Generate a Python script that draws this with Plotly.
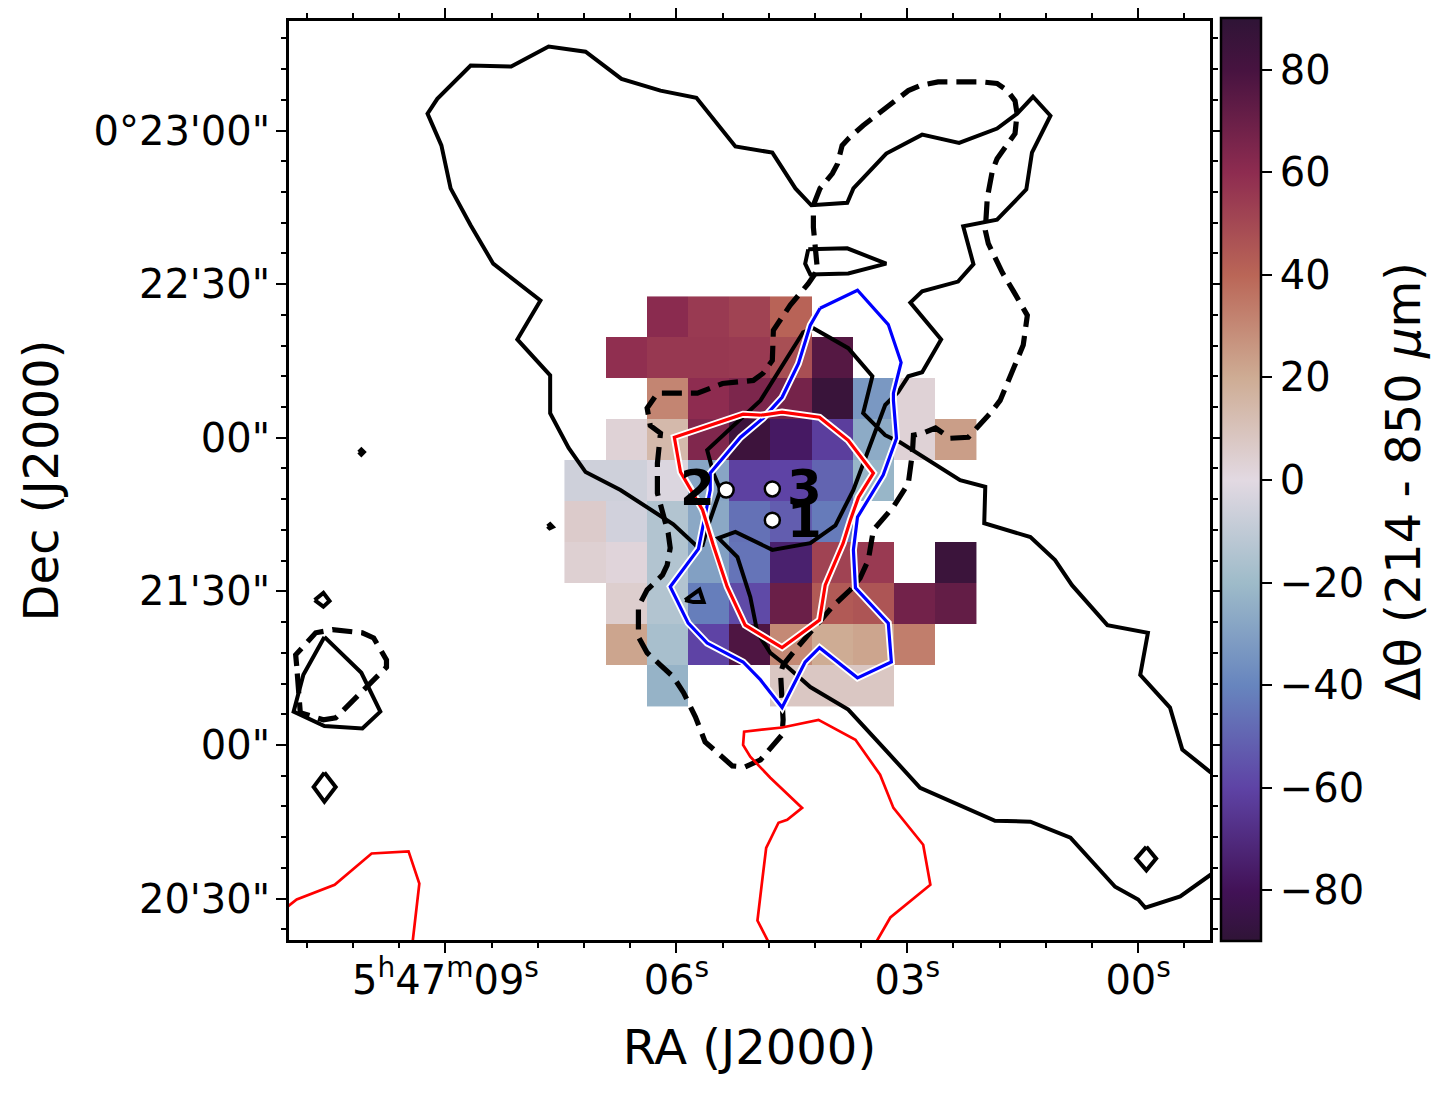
import plotly.graph_objects as go

# All positions: x = RA offset east of 5h47m00s (arcsec), y = arcsec north of 0d20m00s
ra_tick_vals = [135, 90, 45, 0]
ra_tick_text = ["5<sup>h</sup>47<sup>m</sup>09<sup>s</sup>", "06<sup>s</sup>", "03<sup>s</sup>", "00<sup>s</sup>"]
dec_tick_vals = [180, 150, 120, 90, 60, 30]
dec_tick_text = ["0°23'00\"", "22'30\"", "00\"", "21'30\"", "00\"", "20'30\""]

# Delta theta map (deg), rows top to bottom, 8 arcsec cells
dtheta = [
    [None, None, 61, 55, 52, 41, None, None, None, None],
    [None, 59, 56, 56, 55, 48, 76, None, None, None],
    [None, None, 31, 60, 65, 67, 86, -33, 3, None],
    [None, 3, 14, 64, 84, -77, -62, -26, 3, 24],
    [-6, -6, -2, -28, -61, -60, -50, -22, None, None],
    [6, -5, -14, -27, -46, -52, -43, None, None, None],
    [4, 2, -14, -30, -45, -74, 52, 55, None, 85],
    [None, 5, -14, -42, -58, 70, 44, 46, 68, 72],
    [None, 22, -17, -60, 78, 30, 20, 22, 33, None],
    [None, None, -23, None, None, 8, 8, 8, None, None],
]
cell_x0 = 107.8
cell_y0 = 143.6

# twilight_shifted
cmap_stops = [0, 0.0556, 0.1667, 0.2778, 0.3889, 0.5, 0.6111, 0.7222, 0.8333, 0.9444, 1]
cmap_colors = ["#2f1436", "#421257", "#5e43a5", "#6785be", "#9ebbc9", "#e2d9e2",
               "#ceac94", "#ba6657", "#8e2c50", "#471340", "#2f1436"]

main_x = [-14.2, -8.6, -6.2, -0.4, -1.9, 6.0, 12.9, 16.2, 21.0, 30.0, 29.8, 34.7, 46.4, 49.3, 53.6, 51.8, 56.5, 63.3, 65.3, 70.7,
          73.6, 84.0, 82.8, 81.4, 83.8, 84.9, 85.9, 90.6, 100.9, 107.7, 111.0, 114.6, 114.6, 121.0, 116.5, 125.7, 130.1, 134.0, 135.8, 138.5,
          136.6, 130.1, 122.2, 114.9, 107.7, 100.7, 93.1, 86.1, 78.5, 71.3, 66.8, 63.7, 56.7, 55.5, 49.1, 42.1, 34.9, 27.5, 23.6, 20.5,
          17.1, 20.7, 21.8, 27.5, 34.1, 32.1, 35.1, 42.1, 44.4, 38.4, 42.1, 44.8, 46.8, 49.3, 51.8, 55.5, 59.0, 63.9, 71.3, 78.5,
          81.8, 78.1, 75.6, 74.2, 71.7, 69.2, 63.9, 56.5, 49.3, 42.5, 27.9, 21.0, 13.2, 4.5, 0.0, -1.4, -8.2, -14.2]
main_y = [54.6, 59.1, 67.3, 73.7, 81.9, 83.4, 91.2, 96.1, 100.6, 103.3, 110.4, 111.7, 119.1, 120.5, 124.8, 132.0, 137.5, 141.4, 140.6, 131.8,
          127.3, 117.6, 113.1, 109.8, 102.9, 99.0, 98.7, 103.1, 109.8, 113.3, 118.0, 124.8, 132.2, 139.2, 146.8, 154.0, 161.5, 168.7, 177.1, 183.3,
          186.2, 192.7, 192.5, 196.4, 195.4, 190.1, 187.8, 186.4, 176.9, 175.7, 168.7, 165.4, 165.9, 168.7, 175.5, 179.2, 177.6, 180.4, 183.3, 186.6,
          182.9, 175.7, 168.5, 162.6, 161.3, 153.9, 150.5, 148.6, 146.4, 139.2, 132.8, 132.0, 128.9, 126.4, 119.5, 109.8, 102.9, 99.4, 98.1, 101.6,
          100.4, 96.7, 88.9, 81.9, 78.0, 76.0, 71.3, 66.9, 59.1, 51.6, 45.2, 45.0, 41.9, 32.3, 29.8, 28.2, 30.4, 34.7]

# small closed solid islands
islands = [
    ([64.3, 56.7, 49.1, 56.5, 63.9, 64.9, 64.3], [156.8, 157.0, 154.0, 152.1, 151.9, 154.0, 156.8]),
    ([88.3, 85.5, 84.7, 86.7, 88.3], [88.3, 90.3, 87.9, 87.9, 88.3]),
    ([151.9, 151.4, 150.9, 151.4, 151.9], [117.2, 117.7, 117.2, 116.7, 117.2]),
    ([115.1, 114.6, 114.1, 114.7, 115.1], [102.7, 103.1, 102.6, 102.3, 102.7]),
    ([160.5, 158.8, 157.6, 158.8, 160.5], [88.3, 89.7, 88.1, 87.0, 88.3]),
    ([158.6, 156.4, 158.6, 160.7, 158.6], [54.6, 51.8, 48.9, 51.8, 54.6]),
    ([-1.6, -3.5, -1.6, 0.4, -1.6], [40.1, 37.8, 35.5, 37.8, 40.1]),
    ([158.6, 151.4, 147.7, 151.2, 158.6, 164.6, 162.7, 158.6], [81.1, 74.1, 66.5, 63.2, 63.7, 66.5, 73.7, 81.1]),
]

dash_x = [63.3, 62.0, 59.6, 58.6, 57.7, 56.5, 53.6, 48.9, 44.8, 42.5, 39.0, 30.4, 27.5, 25.5, 24.0, 23.6, 24.0, 27.5, 28.4, 29.4,
          29.8, 29.2, 26.5, 24.4, 21.6, 22.4, 26.9, 28.8, 31.4, 33.1, 36.6, 38.2, 39.5, 41.9, 43.8, 44.0, 44.8, 47.7, 51.6, 52.6,
          54.2, 56.1, 59.6, 66.8, 69.2, 69.7, 69.2, 69.4, 73.6, 76.6, 79.1, 84.4, 86.3, 88.6, 90.6, 93.1, 95.7, 97.4, 97.4, 95.7,
          92.7, 91.8, 91.2, 91.6, 93.7, 93.7, 93.1, 95.1, 95.7, 93.7, 85.9, 81.0, 75.0, 73.1, 71.3, 71.1, 67.8, 64.3, 62.5, 63.3, 63.3]
dash_y = [165.4, 168.7, 171.6, 173.5, 177.1, 178.4, 181.0, 184.5, 187.8, 188.8, 189.5, 189.5, 189.2, 187.8, 185.8, 183.3, 179.4, 174.5, 172.2, 166.9,
          160.5, 157.9, 152.3, 148.8, 143.9, 138.1, 127.3, 124.8, 121.9, 120.1, 119.9, 121.1, 121.9, 120.9, 120.5, 117.0, 111.1, 106.5, 102.0, 96.1,
          92.6, 90.3, 87.0, 78.6, 75.6, 74.1, 64.9, 62.0, 57.1, 55.7, 55.9, 60.6, 65.5, 70.2, 73.3, 75.6, 78.0, 81.1, 87.0, 90.3,
          93.2, 95.1, 98.5, 101.4, 109.2, 115.0, 120.9, 122.4, 125.8, 128.7, 128.7, 130.6, 131.2, 132.6, 135.1, 141.0, 145.9, 150.1, 152.7, 161.1, 165.4]

dash_blob_x = [164.0, 164.2, 160.3, 157.0, 151.2, 149.0, 146.5, 146.5, 156.4, 158.8, 163.3, 164.0]
dash_blob_y = [75.4, 77.6, 81.9, 82.5, 81.9, 80.9, 76.6, 75.2, 65.3, 64.9, 66.3, 75.4]

blue_x = [62.0, 54.7, 48.7, 46.2, 47.7, 47.7, 47.1, 49.7, 54.7, 55.5, 55.1, 48.7, 48.1, 54.7, 62.1, 64.9, 69.4, 73.6, 77.0, 84.0,
          87.7, 91.2, 85.7, 84.7, 83.4, 83.4, 77.5, 73.1, 69.4, 66.2, 63.9, 62.0]
blue_y = [145.3, 148.8, 142.1, 134.7, 128.7, 127.3, 119.9, 112.7, 104.5, 98.1, 90.7, 83.8, 76.2, 73.1, 79.0, 76.2, 67.3, 72.7, 76.2, 79.9,
          83.8, 90.9, 98.3, 103.3, 109.8, 113.1, 120.1, 123.8, 127.9, 134.5, 142.0, 145.3]

red_x = [73.6, 69.4, 62.1, 56.5, 51.6, 54.5, 56.1, 57.5, 61.0, 62.1, 69.4, 76.6, 80.1, 82.8, 84.9, 87.3, 89.2, 90.4, 77.0, 73.6]
red_y = [124.4, 125.0, 124.0, 119.5, 113.1, 108.4, 103.9, 99.4, 91.2, 84.4, 79.0, 83.4, 90.9, 99.0, 105.9, 110.2, 113.3, 120.1, 124.6, 124.4]

thin_red_1_x = [165.8, 164.0, 156.6, 149.4, 142.2, 140.1, 141.4]
thin_red_1_y = [28.4, 29.8, 32.7, 38.8, 39.2, 32.9, 21.6]
thin_red_2_x = [72.1, 74.2, 73.3, 72.5, 70.1, 68.4, 65.5, 71.7, 75.6, 77.0, 76.8, 69.4, 62.3, 55.1, 50.3, 47.7, 41.9, 40.5, 48.3, 51.0]
thin_red_2_y = [21.6, 25.7, 33.3, 39.9, 44.8, 45.4, 47.7, 53.6, 57.7, 60.0, 62.6, 63.4, 64.9, 61.0, 54.2, 47.7, 40.5, 32.7, 26.3, 21.6]

source_x = [71.3, 80.3, 71.3]
source_y = [103.9, 109.8, 110.0]
source_names = ["1", "2", "3"]
source_label_x = [65.1, 85.9, 65.1]
source_label_y = [103.9, 110.2, 110.2]

FONT = "DejaVu Sans"

fig = go.Figure()

fig.add_trace(go.Heatmap(
    z=dtheta, x0=cell_x0, dx=-8.03, y0=cell_y0, dy=-8.0,
    zmin=-90, zmax=90,
    colorscale=[[s, c] for s, c in zip(cmap_stops, cmap_colors)],
    hoverongaps=False,
    colorbar=dict(
        x=1.012, xanchor="left", xpad=0, ypad=0, thickness=40, len=1.003,
        outlinecolor="black", outlinewidth=2.5,
        ticks="outside", ticklen=10, tickwidth=2, tickcolor="black",
        tick0=-80, dtick=20,
        tickfont=dict(family=FONT, size=40, color="black"),
    ),
))


def line(x, y, color="black", width=4, dash="solid"):
    fig.add_trace(go.Scatter(x=x, y=y, mode="lines", showlegend=False, hoverinfo="skip",
                             line=dict(color=color, width=width, dash=dash)))


line(dash_x, dash_y, width=5.2, dash="20px,9px")
line(dash_blob_x, dash_blob_y, width=5.2, dash="20px,9px")
line(main_x, main_y)
for ix, iy in islands:
    line(ix, iy)

line(thin_red_1_x, thin_red_1_y, color="red", width=2.7)
line(thin_red_2_x, thin_red_2_y, color="red", width=2.7)

line(blue_x, blue_y, color="white", width=7)
line(blue_x, blue_y, color="blue", width=3.2)
line(red_x, red_y, color="white", width=7)
line(red_x, red_y, color="red", width=3.2)

fig.add_trace(go.Scatter(
    x=source_x, y=source_y, mode="markers", showlegend=False, hoverinfo="skip",
    marker=dict(size=15, color="white", line=dict(color="black", width=2.5)),
))

for name, lx, ly in zip(source_names, source_label_x, source_label_y):
    fig.add_annotation(x=lx, y=ly, text=f"<b>{name}</b>", showarrow=False,
                       font=dict(family=FONT, size=50, color="black"))

fig.add_annotation(xref="paper", yref="paper", x=1.2095, y=0.5, xanchor="center", yanchor="middle", textangle=-90,
                   text="Δθ (214 - 850 <i>μ</i>m)", showarrow=False,
                   font=dict(family=FONT, size=48, color="black"))

axis_common = dict(
    showgrid=False, zeroline=False, showline=True, linecolor="black", linewidth=2.7,
    mirror="ticks", ticks="outside", ticklen=10, tickwidth=2, tickcolor="black",
    tickfont=dict(family=FONT, size=40, color="black"), automargin=False,
)
fig.update_xaxes(
    range=[165.5, -14.0], tickmode="array", tickvals=ra_tick_vals, ticktext=ra_tick_text,
    minor=dict(ticks="outside", ticklen=5, tickwidth=2, tickcolor="black", tick0=0, dtick=9),
    ticklabelstandoff=-7,
    title=dict(text="RA (J2000)", font=dict(family=FONT, size=48, color="black"), standoff=29),
    **axis_common,
)
fig.update_yaxes(
    range=[21.9, 201.4], tickmode="array", tickvals=dec_tick_vals, ticktext=dec_tick_text,
    minor=dict(ticks="outside", ticklen=5, tickwidth=2, tickcolor="black", tick0=0, dtick=6),
    ticklabelstandoff=-2,
    title=dict(text="Dec (J2000)", font=dict(family=FONT, size=48, color="black"), standoff=20),
    **axis_common,
)

# the page body adds 8 px on each side
fig.update_layout(
    width=1434, height=1078, autosize=False,
    margin=dict(l=280.5, r=232.1, t=12.2, b=145.5),
    paper_bgcolor="white", plot_bgcolor="white",
    font=dict(family=FONT),
)

fig.write_html("out.html")
